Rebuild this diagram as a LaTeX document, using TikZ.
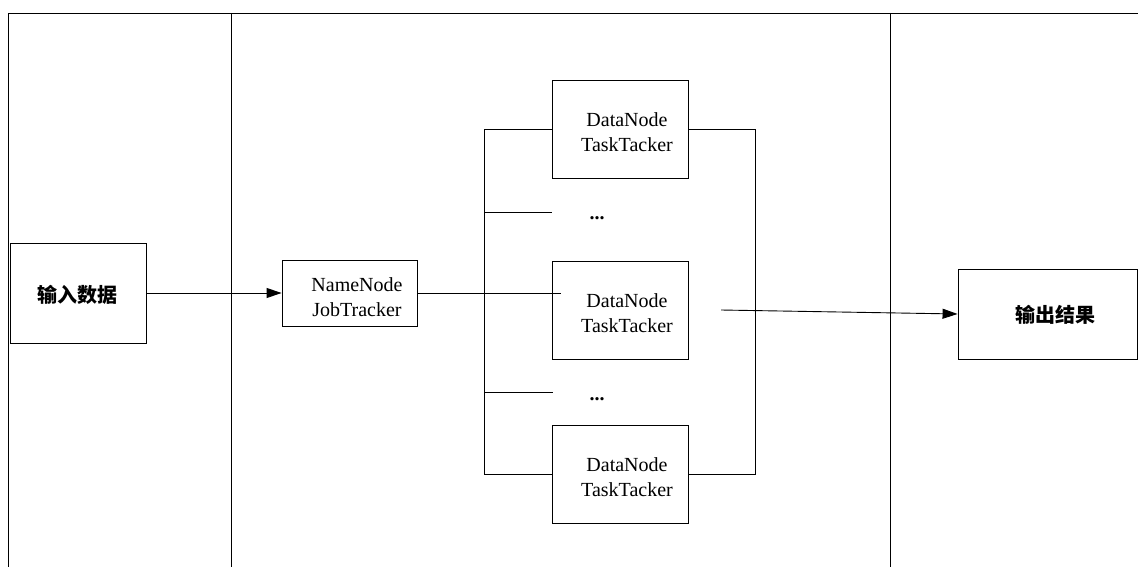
\documentclass[tikz,border=0pt]{standalone}
\usepackage{fontspec}
\setmainfont{Liberation Serif}
\newfontfamily\cjk{Noto Sans CJK SC}
\usetikzlibrary{arrows.meta}
\begin{document}
\begin{tikzpicture}[x=1pt,y=-1pt,line width=0.9pt,
  box/.style={draw,line width=0.9pt,inner sep=0pt},
  lbl/.style={font=\fontsize{20}{25}\selectfont,align=center,inner sep=0pt},
  zh/.style={font=\cjk\bfseries\fontsize{20}{24}\selectfont,inner sep=0pt},
  arr/.style={-{Triangle[length=15pt,width=10pt]}},
  conn/.style={line width=0.9pt}]
\useasboundingbox (0,0) rectangle (1138,567);
% frame
\draw[conn] (8,567) -- (8,13) -- (1138,13);
\draw[conn] (231,13) -- (231,567);
\draw[conn] (890,13) -- (890,567);
% boxes
\node[box,minimum width=136,minimum height=100] (in) at (78,293) {};
\node[zh] (intxt) at (77,295) {输入数据};
\node[box,minimum width=135,minimum height=66] (nn) at (349.5,293) {};
\node[lbl] (nntxt) at (357,297) {NameNode\\JobTracker};
\node[box,minimum width=136,minimum height=98] (d1) at (620,129) {};
\node[lbl] (d1txt) at (627,132) {DataNode\\TaskTacker};
\node[box,minimum width=136,minimum height=98] (d2) at (620,310) {};
\node[lbl] (d2txt) at (627,313) {DataNode\\TaskTacker};
\node[box,minimum width=136,minimum height=98] (d3) at (620,474) {};
\node[lbl] (d3txt) at (627,477) {DataNode\\TaskTacker};
\node[box,minimum width=179,minimum height=90] (out) at (1047.5,314) {};
\node[zh] (outtxt) at (1055,315) {输出结果};
\node[lbl] (dots1) at (597,218) {\textbf{...}};
\node[lbl] (dots2) at (597,399) {\textbf{...}};
% coordinates
\coordinate (lt) at (484,129);
\coordinate (lb) at (484,474);
\coordinate (rt) at (755,129);
\coordinate (rb) at (755,474);
\coordinate (b1s) at (484,212);
\coordinate (b1e) at (552,212);
\coordinate (b2s) at (484,392);
\coordinate (b2e) at (553,392);
\coordinate (nne) at (561,293);
\coordinate (os) at (721,310);
% connectors
\draw[conn,arr] (in.east) -- (nn.west);
\draw[conn] (nn.east) -- (nne);
\draw[conn] (d1.west) -- (lt) -- (lb) -- (d3.west);
\draw[conn] (b1s) -- (b1e);
\draw[conn] (b2s) -- (b2e);
\draw[conn] (d1.east) -- (rt) -- (rb) -- (d3.east);
\draw[conn,arr] (os) -- (out.west);
\end{tikzpicture}
\end{document}
